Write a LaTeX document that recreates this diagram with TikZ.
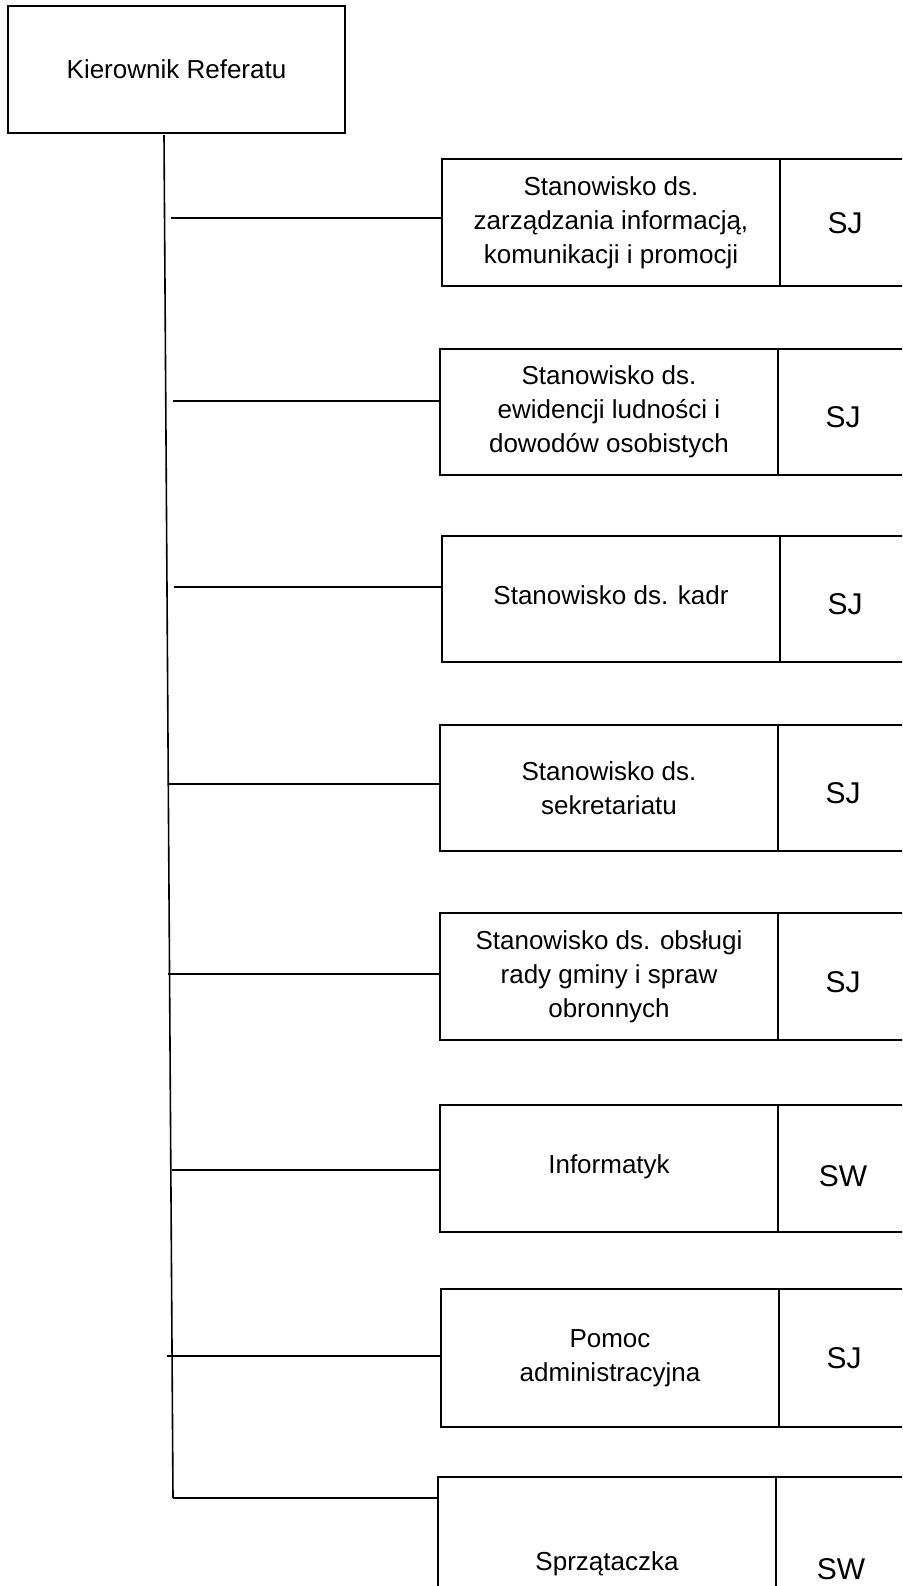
\documentclass[tikz,border=0pt]{standalone}
\usepackage{fontspec}
\setmainfont{Liberation Sans}
\usetikzlibrary{positioning}

\begin{document}
\begin{tikzpicture}[x=0.5pt,y=-0.5pt,
        post/.style={draw, line width=1pt, outer sep=0pt, inner sep=2pt, anchor=north west,
            minimum width=169pt, minimum height=63pt, align=center,
            font=\fontsize{13}{17}\selectfont},
        grade/.style={draw, line width=1pt, outer sep=0pt, minimum width=65pt,
            minimum height=63pt, text height=16pt, font=\fontsize{15}{18}\selectfont}]

    \path[use as bounding box] (0,0) rectangle (902,1586);
    \clip (0,0) rectangle (902,1586);

    \node[post, minimum width=168.5pt, minimum height=63.5pt] (head) at (8,6) {Kierownik Referatu};

    % stanowiska
    \node[post, minimum height=63.5pt] (s1) at (442,159) {Stanowisko ds.\\zarządzania informacją,\\komunikacji i promocji};
    \node[post] (s2) at (440,349) {Stanowisko ds.\\ewidencji ludności i\\dowodów osobistych};
    \node[post, text depth=4pt] (s3) at (442,536) {Stanowisko ds. kadr};
    \node[post] (s4) at (440,725) {Stanowisko ds.\\sekretariatu};
    \node[post, minimum height=63.5pt] (s5) at (440,913) {Stanowisko ds. obsługi\\rady gminy i spraw\\obronnych};
    \node[post, minimum height=63.5pt, text depth=4pt] (s6) at (440,1105) {Informatyk};
    \node[post, minimum height=69pt] (s7) at (441,1289) {Pomoc\\administracyjna};
    \node[post, minimum height=87pt] (s8) at (438,1477) {Sprzątaczka};

    \node[grade, minimum height=63.5pt, text height=11pt, right=0pt of s1] (g1) {SJ};
    \node[grade, right=0pt of s2] (g2) {SJ};
    \node[grade, right=0pt of s3] (g3) {SJ};
    \node[grade, right=0pt of s4] (g4) {SJ};
    \node[grade, minimum height=63.5pt, right=0pt of s5] (g5) {SJ};
    \node[grade, minimum height=63.5pt, text height=18pt, right=0pt of s6] (g6) {SW};
    \node[grade, minimum height=69pt, text height=11pt, right=0pt of s7] (g7) {SJ};
    \node[grade, minimum height=87pt, right=0pt of s8] (g8) {SW};

    \coordinate (trunk top) at (164,135);
    \coordinate (trunk end) at (173,1498);
    \coordinate (b1) at (171,218);
    \coordinate (b2) at (173,401);
    \coordinate (b3) at (174,587);
    \coordinate (b4) at (168,784);
    \coordinate (b5) at (168,974);
    \coordinate (b6) at (172,1170);
    \coordinate (b7) at (167,1356);

    \path[every edge/.append style={line width=0.8pt}]
    (trunk top) edge (trunk end)
    (b1) edge (b1 -| s1.west)
    (b2) edge (b2 -| s2.west)
    (b3) edge (b3 -| s3.west)
    (b4) edge (b4 -| s4.west)
    (b5) edge (b5 -| s5.west)
    (b6) edge (b6 -| s6.west)
    (b7) edge (b7 -| s7.west)
    (trunk end) edge[line width=1pt] (trunk end -| s8.west);

\end{tikzpicture}
\end{document}
